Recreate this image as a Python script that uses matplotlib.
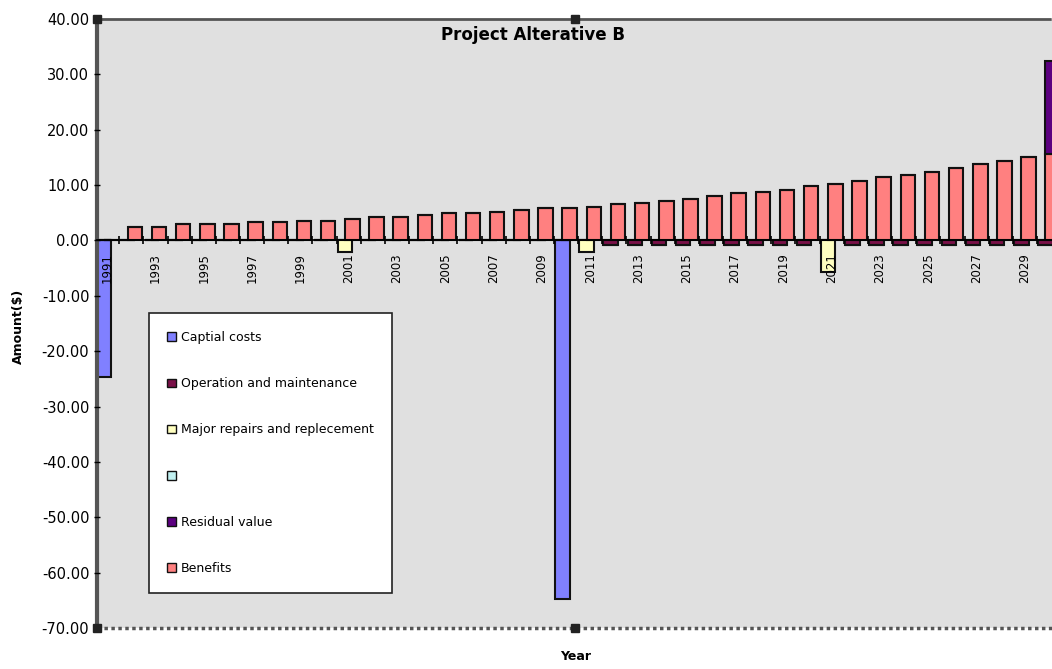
import numpy as np
import matplotlib
matplotlib.use('Agg')
import matplotlib.pyplot as plt
from matplotlib.patches import Patch

plt.rcParams['font.family'] = ['DejaVu Sans']

# data
years = list(range(1991, 2031))
capital = [-24.7] + [0] * 18 + [-64.8] + [0] * 20
om = [0] * 21 + [-0.8] * 9 + [0] + [-0.8] * 9
repairs = [0] * 10 + [-2.0] + [0] * 9 + [-2.0] + [0] * 9 + [-5.7] + [0] * 9
residual = [0] * 39 + [16.8]
benefits = [0, 2.5, 2.5, 2.9, 2.9, 2.9, 3.3, 3.3, 3.6, 3.6,
            3.9, 4.2, 4.2, 4.6, 4.9, 4.9, 5.2, 5.5, 5.8, 5.8,
            6.1, 6.5, 6.8, 7.1, 7.5, 8.1, 8.5, 8.8, 9.1, 9.8,
            10.2, 10.8, 11.5, 11.8, 12.4, 13.1, 13.8, 14.4, 15.1, 15.6]

labels = ['Captial costs', 'Operation and maintenance',
          'Major repairs and replecement', ' ', 'Residual value', 'Benefits']
colors = ['#8080ff', '#7a1048', '#ffffc0', '#c0f0f0', '#5c0080', '#ff8080']

x = np.arange(len(years))
w = 0.6
neg_x = x - 0.15
pos_x = x + 0.15

fig = plt.figure(figsize=(10.52, 6.69), dpi=100)
ax = fig.add_axes([97 / 1052, 41 / 669, 1 - 97 / 1052, 609 / 669])
ax.set_facecolor('#e0e0e0')

edge = dict(edgecolor='#111111', linewidth=1.5)
ax.bar(neg_x, capital, w, color=colors[0], **edge, zorder=2)
ax.bar(neg_x, om, w, color=colors[1], **edge, zorder=2)
ax.bar(neg_x, repairs, w, bottom=om, color=colors[2], **edge, zorder=2)
ax.bar(pos_x, benefits, w, color=colors[5], **edge, zorder=2)
ax.bar(pos_x, residual, w, bottom=benefits, color=colors[4], **edge, zorder=2)
ax.set_axisbelow(False)

ax.set_xlim(-0.42, 39.12)
ax.set_ylim(-70, 40)
ax.set_yticks(np.arange(-70, 41, 10))
ax.yaxis.set_major_formatter(matplotlib.ticker.FuncFormatter(lambda v, p: '%.2f' % v))
ax.tick_params(axis='y', labelsize=10.5, length=4, direction='inout', width=1)

# x axis at zero
ax.spines['bottom'].set_position(('data', 0))
ax.spines['bottom'].set_linewidth(1.3)
ax.set_xticks(x[::2])
ax.set_xticklabels([str(y) for y in years[::2]], rotation=90, fontsize=8.5)
ax.set_xticks(x[:-1] + 0.5, minor=True)
ax.tick_params(axis='x', which='major', length=0, pad=9)
ax.tick_params(axis='x', which='minor', length=6, direction='inout', width=1.2)

for s in ['top', 'left']:
    ax.spines[s].set_linestyle((0, (1, 1)))
    ax.spines[s].set_color('#555555')
ax.spines['top'].set_linewidth(2)
ax.spines['left'].set_linewidth(3)
ax.spines['right'].set_visible(False)
ax.axhline(-70, color='#555555', lw=2.5, ls=(0, (1, 1)), clip_on=False, zorder=5)

fig.text(533 / 1052, 1 - 35 / 669, 'Project Alterative B', ha='center', va='center',
         fontsize=12, fontweight='bold')
fig.text(18 / 1052, 1 - 326 / 669, 'Amount($)', rotation=90, ha='center', va='center',
         fontsize=9, fontweight='bold')
fig.text(576 / 1052, 1 - 657 / 669, 'Year', ha='center', va='center',
         fontsize=9, fontweight='bold')

handles = [Patch(facecolor=c, edgecolor='#111111', linewidth=1) for c in colors]
leg = ax.legend(handles, labels, loc='upper left', bbox_to_anchor=(149 / 1052, 1 - 313 / 669),
                bbox_transform=fig.transFigure, borderaxespad=0, fontsize=9,
                labelspacing=2.65, handlelength=0.7, handleheight=0.7, handletextpad=0.4,
                borderpad=1.45, fancybox=False, framealpha=1, edgecolor='#222222')
leg.get_frame().set_linewidth(1.2)
leg.set_zorder(6)

# selection handles of the chart
for hx, hy in [(97, 19), (575, 19), (97, 628), (575, 628)]:
    fig.add_artist(plt.Line2D([hx / 1052], [1 - hy / 669], marker='s', ms=6,
                              color='#222222', transform=fig.transFigure))

fig.savefig('out.png', dpi=100)
